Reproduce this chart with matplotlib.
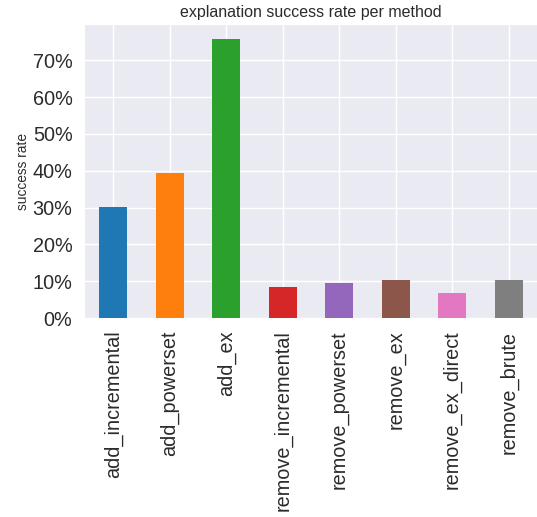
import matplotlib
matplotlib.use("Agg")
import matplotlib.pyplot as plt
from matplotlib.ticker import PercentFormatter, MultipleLocator

methods = ["add_incremental", "add_powerset", "add_ex", "remove_incremental",
           "remove_powerset", "remove_ex", "remove_ex_direct", "remove_brute"]
success_rate = [0.302, 0.394, 0.758, 0.083, 0.094, 0.102, 0.069, 0.102]
colors = ["#1f77b4", "#ff7f0e", "#2ca02c", "#d62728",
          "#9467bd", "#8c564b", "#e377c2", "#7f7f7f"]

plt.rcParams['font.family'] = ['Liberation Sans', 'DejaVu Sans']

fig = plt.figure(figsize=(5.37, 5.17), dpi=100)
fig.patch.set_facecolor("white")
ax = fig.add_axes([85/537, (517-318)/517, (537-85)/537, (318-25)/517])
ax.set_facecolor("#EAEAF2")

x = list(range(len(methods)))
ax.bar(x, success_rate, width=0.5, color=colors, zorder=2)
ax.set_xlim(-0.5, len(methods) - 0.5)
ax.set_ylim(0, max(success_rate) * 1.05)

ax.set_xticks(x)
ax.set_xticklabels(methods, rotation=90)
ax.yaxis.set_major_locator(MultipleLocator(0.1))
ax.yaxis.set_major_formatter(PercentFormatter(1.0, decimals=0))

ax.grid(True, color="white", linewidth=1.0, zorder=0)
ax.set_axisbelow(True)
for s in ax.spines.values():
    s.set_visible(False)
ax.tick_params(axis="both", length=0, pad=9, labelsize=14.3, colors="#2b2b2b")

ax.set_title("explanation success rate per method", fontsize=11.5, color="#2b2b2b", pad=6)
ax.set_ylabel("success rate", fontsize=9.9, color="#2b2b2b", labelpad=2)

fig.savefig("out.png", dpi=100)
